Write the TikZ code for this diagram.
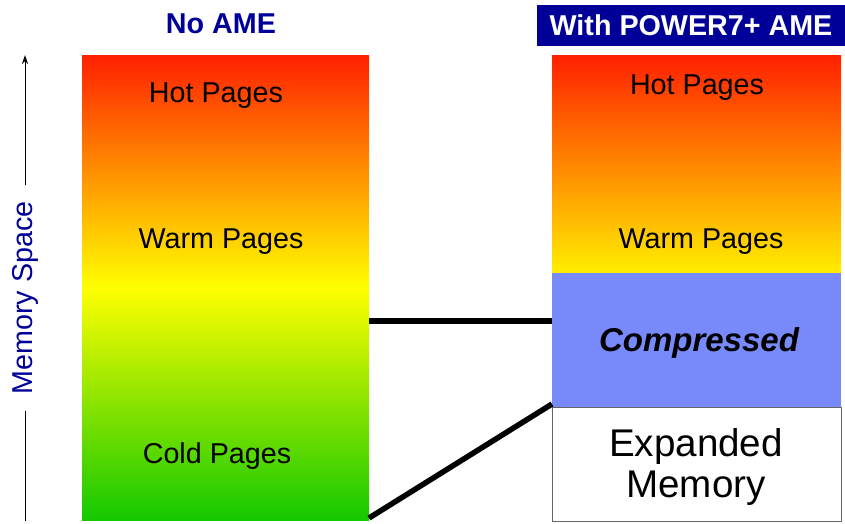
\documentclass[tikz,border=0pt]{standalone}
\usepackage{fontspec}
\setmainfont{Liberation Sans}
\usetikzlibrary{arrows.meta}
\definecolor{navy}{RGB}{0,0,153}
\definecolor{hotred}{RGB}{255,32,0}
\definecolor{warmyel}{RGB}{255,255,0}
\definecolor{coolgrn}{RGB}{20,200,0}
\definecolor{rightyel}{RGB}{255,238,0}
\definecolor{compblue}{RGB}{120,138,250}
\tikzset{
  pagelabel/.style={font=\fontsize{28.7}{32}\selectfont, inner sep=0pt},
  titletext/.style={font=\fontsize{28.7}{32}\selectfont\bfseries},
  link/.style={line width=5.5pt, black},
}
\begin{document}
\begin{tikzpicture}[x=1pt,y=-1pt]
\useasboundingbox (0,0) rectangle (845,523);

% titles
\node[titletext, text=navy] (tleft) at (221,24) {No AME};
\node[titletext, text=white, fill=navy, minimum width=308pt, minimum height=41pt, inner sep=0pt] (tright) at (691,25.5) {With POWER7+ AME};

% memory-space axis
\node[rotate=90, text=navy, pagelabel, inner xsep=16pt] (axis) at (25,298) {Memory Space};
\coordinate (axtop) at (25,55);
\coordinate (axbot) at (25,521);
\draw[line width=1pt, -{Stealth[length=9pt,width=6pt]}] (axis.east) -- (axtop);
\draw[line width=1pt] (axis.west) -- (axbot);

% left column: whole memory, hot to cold
\node[anchor=north west, minimum width=287pt, minimum height=465pt, inner sep=0pt,
      top color=hotred, bottom color=coolgrn, middle color=warmyel] (nocol) at (82,55) {};
\node[pagelabel] (lhot) at (216,96) {Hot Pages};
\node[pagelabel] (lwarm) at (221,242) {Warm Pages};
\node[pagelabel] (lcold) at (217,456) {Cold Pages};

% right column: uncompressed, compressed and expanded regions
\node[anchor=north west, minimum width=289pt, minimum height=218pt, inner sep=0pt,
      top color=hotred, bottom color=rightyel] (ucol) at (552,55) {};
\node[anchor=north west, minimum width=289pt, minimum height=134pt, inner sep=0pt,
      fill=compblue] (comp) at (552,273) {};
\node[anchor=north west, minimum width=289pt, minimum height=114pt, inner sep=0pt,
      fill=white, draw=black!60, line width=1.2pt] (exp) at (552,407) {};
\node[pagelabel] (rhot) at (697,88) {Hot Pages};
\node[pagelabel] (rwarm) at (701,242) {Warm Pages};
\node[font=\fontsize{33}{36}\selectfont\bfseries\itshape] (complbl) at (699,343) {Compressed};
\node[font=\fontsize{38.6}{41}\selectfont, align=center] (explbl) at (696,467) {Expanded\\Memory};

% connectors between the columns
\coordinate (l1) at (369,321);
\coordinate (r1) at (552,321);
\coordinate (l2) at (369,518);
\coordinate (r2) at (552,404);
\draw[link] (l1) -- (r1);
\draw[link] (l2) -- (r2);
\end{tikzpicture}
\end{document}
